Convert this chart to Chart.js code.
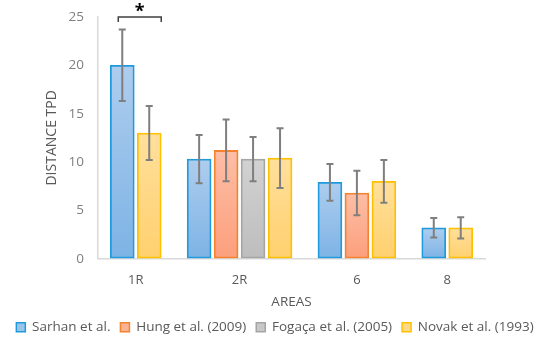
<!DOCTYPE html>
<html>
<head>
<meta charset="utf-8">
<script src="https://cdn.jsdelivr.net/npm/chart.js@4"></script>
<style>
  html, body { margin: 0; background: #fff; }
  #wrap { width: 550px; height: 344px; }
</style>
</head>
<body>
<div id="wrap"><canvas id="chart"></canvas></div>
<script>
// Data
const areas = ['1R', '2R', '6', '8'];
const sarhan = [20, 10.3, 7.9, 3.2];
const hung = [null, 11.2, 6.8, null];
const fogaca = [null, 10.3, null, null];
const novak = [13, 10.4, 8.0, 3.2];
const sarhanErr = [3.7, 2.5, 1.9, 1.0];
const hungErr = [null, 3.2, 2.3, null];
const fogacaErr = [null, 2.3, null, null];
const novakErr = [2.8, 3.1, 2.2, 1.1];
const seriesNames = ['Sarhan et al.', 'Hung et al. (2009)', 'Fogaça et al. (2005)', 'Novak et al. (1993)'];

const allData = [sarhan, hung, fogaca, novak];
const errors = [sarhanErr, hungErr, fogacaErr, novakErr];

const FONT = '"Open Sans", sans-serif';
const TEXT = '#595959';

// groups are packed: only the studies with a value get a slot,
// with a fixed gap between areas (in bar-slot units)
const GAP = 0.85;
const MARGIN = 0.4;
const groupCenters = [];
const slots = allData.map(() => []);
let cursor = MARGIN;
areas.forEach((area, c) => {
    const start = cursor;
    allData.forEach((series, s) => {
        if (series[c] != null) {
            slots[s].push({ x: cursor + 0.5, y: series[c], cat: c });
            cursor += 1;
        }
    });
    groupCenters.push((start + cursor) / 2);
    cursor += GAP;
});
const xMax = cursor - GAP + MARGIN;

// vertical gradient per bar, lighter at top
function barGradient(top, bottom) {
    return (ctx) => {
        const chart = ctx.chart;
        const y = chart.scales.y;
        if (ctx.type !== 'data' || !y || ctx.parsed == null || ctx.parsed.y == null) return bottom;
        const y0 = y.getPixelForValue(0);
        const y1 = y.getPixelForValue(ctx.parsed.y);
        if (!isFinite(y0) || !isFinite(y1) || y0 === y1) return bottom;
        const g = chart.ctx.createLinearGradient(0, y1, 0, y0);
        g.addColorStop(0, top);
        g.addColorStop(1, bottom);
        return g;
    };
}

const styles = [
    { border: '#1F9BDD', top: '#AECDEE', bottom: '#7DB3E5', flat: '#9DC3EA' },
    { border: '#F5822F', top: '#FDBEA6', bottom: '#FC9F7C', flat: '#FBB295' },
    { border: '#A5A5A5', top: '#D2D2D2', bottom: '#BDBDBD', flat: '#C8C8C8' },
    { border: '#FFC000', top: '#FFE09C', bottom: '#FFD06E', flat: '#FFD98A' }
];

// error bars
const errorBars = {
    id: 'errorBars',
    afterDatasetsDraw(chart) {
        const ctx = chart.ctx;
        const y = chart.scales.y;
        ctx.save();
        ctx.strokeStyle = '#7F7F7F';
        ctx.lineWidth = 2;
        chart.data.datasets.forEach((ds, di) => {
            const meta = chart.getDatasetMeta(di);
            meta.data.forEach((el, i) => {
                const pt = ds.data[i];
                const e = errors[di][pt.cat];
                if (e == null) return;
                const top = y.getPixelForValue(pt.y + e);
                const bot = y.getPixelForValue(pt.y - e);
                ctx.beginPath();
                ctx.moveTo(el.x, top); ctx.lineTo(el.x, bot);
                ctx.moveTo(el.x - 3.5, top); ctx.lineTo(el.x + 3.5, top);
                ctx.moveTo(el.x - 3.5, bot); ctx.lineTo(el.x + 3.5, bot);
                ctx.stroke();
            });
        });
        ctx.restore();
    }
};

// significance bracket over 1R
const bracket = {
    id: 'bracket',
    afterDraw(chart) {
        const ctx = chart.ctx;
        const a = chart.getDatasetMeta(0).data[0];
        const b = chart.getDatasetMeta(3).data[0];
        const yTop = chart.scales.y.getPixelForValue(25);
        const x1 = a.x - 4;
        const x2 = b.x + b.width / 2;
        ctx.save();
        ctx.strokeStyle = '#404040';
        ctx.lineWidth = 1.5;
        ctx.beginPath();
        ctx.moveTo(x1, yTop + 5); ctx.lineTo(x1, yTop); ctx.lineTo(x2, yTop); ctx.lineTo(x2, yTop + 5);
        ctx.stroke();
        ctx.fillStyle = '#000';
        ctx.font = 'bold 18px ' + FONT;
        ctx.textAlign = 'center';
        ctx.textBaseline = 'middle';
        ctx.fillText('*', (x1 + x2) / 2, yTop - 5);
        ctx.restore();
    }
};

new Chart(document.getElementById('chart'), {
    type: 'bar',
    data: {
        datasets: slots.map((d, i) => ({
            label: seriesNames[i],
            data: d,
            backgroundColor: barGradient(styles[i].top, styles[i].bottom),
            borderColor: styles[i].border,
            borderWidth: 1.8,
            borderSkipped: false,
            barThickness: 24,
            grouped: false
        }))
    },
    options: {
        responsive: true,
        maintainAspectRatio: false,
        animation: false,
        events: [],
        layout: { padding: { left: 4, right: 4, top: 17, bottom: 0 } },
        plugins: {
            tooltip: { enabled: false },
            legend: {
                position: 'bottom',
                labels: {
                    font: { family: FONT, size: 13.5 },
                    color: TEXT,
                    boxWidth: 9,
                    boxHeight: 9,
                    padding: 10,
                    generateLabels: (chart) => chart.data.datasets.map((ds, i) => ({
                        text: ds.label,
                        fillStyle: styles[i].flat,
                        strokeStyle: styles[i].border,
                        lineWidth: 1.5,
                        fontColor: TEXT,
                        datasetIndex: i
                    }))
                }
            }
        },
        scales: {
            x: {
                type: 'linear',
                min: 0,
                max: xMax,
                offset: false,
                afterBuildTicks: (s) => { s.ticks = groupCenters.map(v => ({ value: v })); },
                grid: { display: true, drawOnChartArea: false, drawTicks: false },
                border: { display: true, color: '#D9D9D9', width: 1.5 },
                ticks: {
                    font: { family: FONT, size: 13 }, color: TEXT, padding: 14,
                    autoSkip: false, maxRotation: 0,
                    callback: (v) => {
                        const i = groupCenters.findIndex(c => Math.abs(c - v) < 1e-6);
                        return i >= 0 ? areas[i] : '';
                    }
                },
                title: {
                    display: true, text: 'AREAS',
                    font: { family: FONT, size: 13.5 }, color: TEXT,
                    padding: { top: -8, bottom: 0 }
                }
            },
            y: {
                min: 0, max: 25,
                grid: { display: true, drawOnChartArea: false, drawTicks: false },
                border: { display: true, color: '#D9D9D9', width: 1.5 },
                ticks: { stepSize: 5, font: { family: FONT, size: 13.5 }, color: '#7F7F7F', padding: 14 },
                title: {
                    display: true, text: 'DISTANCE TPD',
                    font: { family: FONT, size: 14 }, color: TEXT,
                    padding: { top: 40, bottom: 0 }
                },
                afterFit: (s) => {
                    s.width = 94;
                    s.paddingTop = 0;
                    s.paddingBottom = 0;
                }
            },
            // empty right-hand axis only reserves the blank strip right of the plot
            yRight: {
                type: 'linear',
                position: 'right',
                grid: { display: false },
                border: { display: false },
                ticks: { display: false },
                afterFit: (s) => { s.width = 61; }
            }
        }
    },
    plugins: [errorBars, bracket]
});
</script>
</body>
</html>
